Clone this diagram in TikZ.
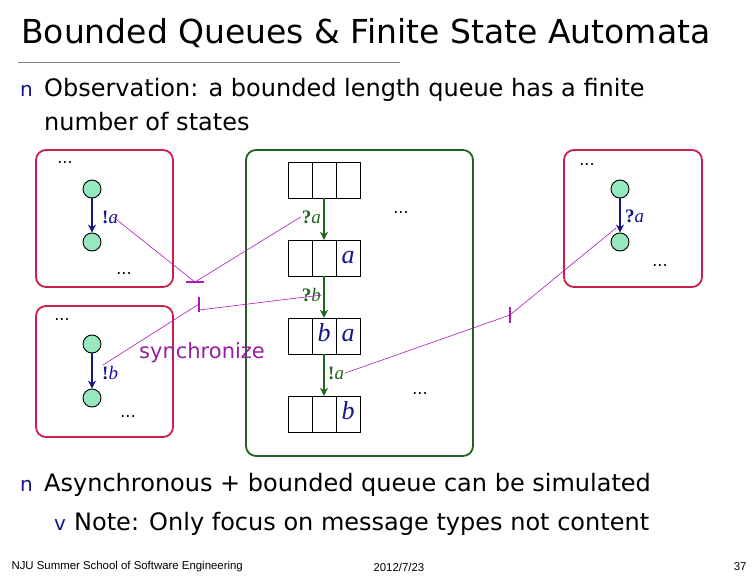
\documentclass[tikz,border=0pt]{standalone}
\usepackage{fontspec}
\usetikzlibrary{arrows.meta}
\setmainfont{DejaVu Sans}
\newfontfamily\ftr{Liberation Sans}
\newfontfamily\ser{Liberation Serif}
\begin{document}
\begin{tikzpicture}[x=1pt,y=-1pt,
  redbox/.style={draw=boxred,line width=1.8pt,rounded corners=10pt},
  st/.style={circle,draw=black,fill=stgreen,minimum size=18pt,inner sep=0pt,line width=0.9pt},
  tr/.style={draw=navy,line width=2.6pt,-{Stealth[length=8pt,width=8pt]}},
  qa/.style={draw=dgreen,line width=2pt,-{Stealth[length=8pt,width=8pt]}},
  cell/.style={draw=black,minimum width=24pt,minimum height=36pt,inner sep=0pt,font=\ser\itshape\fontsize{26}{26}\selectfont,text=navy},
  lbl/.style={font=\ser\fontsize{19}{19}\selectfont,inner sep=1pt},
  dots/.style={font=\fontsize{16}{16}\selectfont},
  sync/.style={draw=violet!70!magenta,line width=0.6pt},
  tick/.style={draw=violet!80!magenta,line width=2.6pt},
  txt/.style={anchor=west,font=\fontsize{24}{28}\selectfont,inner sep=0pt},
  bul/.style={anchor=west,font=\fontsize{20}{24}\selectfont,inner sep=0pt,text=navy}]
\definecolor{boxred}{RGB}{205,30,75}
\definecolor{dgreen}{RGB}{30,100,30}
\definecolor{stgreen}{RGB}{150,232,190}
\definecolor{navy}{RGB}{20,20,140}
\definecolor{violet}{RGB}{150,30,160}
\useasboundingbox (0,0) rectangle (756,576);
\node[anchor=west,inner sep=0pt,font=\fontsize{33}{36}\selectfont] (title) at (21,33) {Bounded Queues \& Finite State Automata};
\draw[gray,line width=0.8pt] (18,62) -- (400,62);
\node[bul] (n1) at (20,91) {n};
\node[txt] (o1) at (44,90) {Observation: a bounded length queue has a finite};
\node[txt] (o2) at (44,122) {number of states};
% boxes
\draw[redbox] (36,150) rectangle (173,287);
\draw[redbox] (36,306) rectangle (173,437);
\draw[redbox] (564,150) rectangle (702,287);
\draw[draw=dgreen,line width=1.8pt,rounded corners=10pt] (246,150) rectangle (473,456);
% states
\node[st] (s1) at (92,189) {}; \node[st] (s2) at (92,242) {};
\node[st] (s3) at (92,344) {}; \node[st] (s4) at (92,398) {};
\node[st] (s5) at (620,189) {}; \node[st] (s6) at (620,242) {};
\draw[tr] (s1) -- (s2); \draw[tr] (s3) -- (s4); \draw[tr] (s5) -- (s6);
\node[lbl,anchor=west] (la) at (101,217) {\textcolor{navy}{\textbf{!}\textit{a}}};
\node[lbl,anchor=west] (lb) at (101,373) {\textcolor{navy}{\textbf{!}\textit{b}}};
\node[lbl,anchor=west] (lc) at (624,216) {\textcolor{navy}{\textbf{?}\textit{a}}};
% dots
\node[dots] (d1) at (65,163) {...}; \node[dots] (d2) at (124,274) {...};
\node[dots] (d3) at (62,320) {...}; \node[dots] (d4) at (128,417) {...};
\node[dots] (d5) at (587,165) {...}; \node[dots] (d6) at (660,266) {...};
\node[dots] (d7) at (401,213) {...}; \node[dots] (d8) at (420,394) {...};
% queues
\foreach \r/\y/\v/\w in {1/180/{}/{}, 2/258/{}/a, 3/336/b/a, 4/414/{}/b}{
  \node[cell] (q\r a) at (300,\y) {\strut};
  \node[cell] (q\r b) at (324,\y) {\strut\v};
  \node[cell] (q\r c) at (348,\y) {\strut\w};
}
\draw[qa] (q1b.south) -- (q2b.north);
\draw[qa] (q2b.south) -- (q3b.north);
\draw[qa] (q3b.south) -- (q4b.north);
\node[lbl,anchor=east,text=dgreen] (ga) at (322,217) {\textbf{?}\textit{a}};
\node[lbl,anchor=east,text=dgreen] (gb) at (322,295) {\textbf{?}\textit{b}};
\node[lbl,anchor=west,text=dgreen] (gc) at (327,373) {\textbf{!}\textit{a}};
% sync
\coordinate (t1) at (195,282);
\coordinate (t2) at (199,304);
\coordinate (t3) at (510,315);
\draw[tick] (186,282) -- (204,282);
\draw[tick] (199,297) -- (199,312);
\draw[tick] (510,307) -- (510,323);
\draw[sync] (la.east) ++(-6,0) -- (t1);
\draw[sync] (ga.west) -- (t1);
\draw[sync] (lb.west) ++(2,-8) -- (t2);
\draw[sync] (gb.east) -- (199,310);
\draw[sync] (gc.east) -- (t3) -- (616,228);
\node[font=\fontsize{21}{21}\selectfont,text=violet] (sy) at (202,353) {synchronize};
% bottom
\node[bul] (n2) at (20,486) {n};
\node[txt] (b1) at (44,485) {Asynchronous + bounded queue can be simulated};
\node[bul] (n3) at (54,525) {v};
\node[txt] (b2) at (74,524) {Note: Only focus on message types not content};
\node[anchor=west,font=\ftr\fontsize{11.4}{12}\selectfont] (f1) at (8,567) {NJU Summer School of Software Engineering};
\node[anchor=west,font=\ftr\fontsize{11.4}{12}\selectfont] (f2) at (370,567) {2012/7/23};
\node[anchor=east,font=\ftr\fontsize{11.4}{12}\selectfont] (f3) at (750,567) {37};
\end{tikzpicture}
\end{document}
